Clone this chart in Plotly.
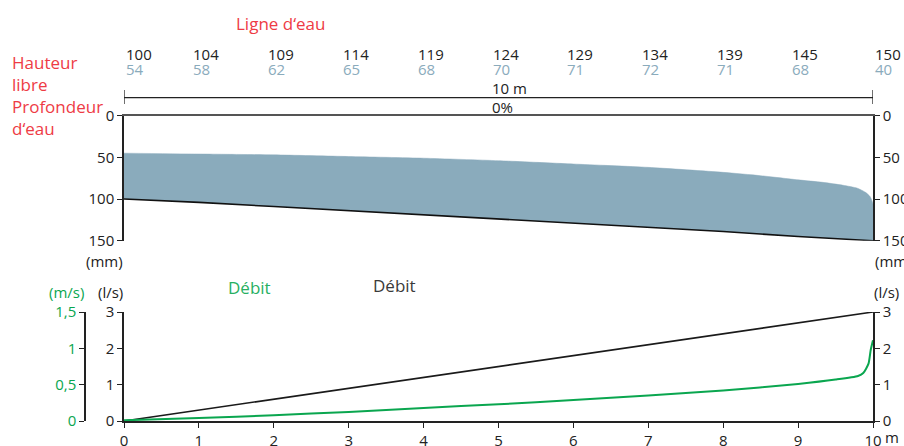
"""
Profil d'écoulement - ligne d'eau, hauteur libre et débit
"""

import plotly.graph_objects as go

# stations le long du tronçon (m)
stations = [0, 1, 2, 3, 4, 5, 6, 7, 8, 9, 10]
ligne_eau = [100, 104, 109, 114, 119, 124, 129, 134, 139, 145, 150]
hauteur_libre = [54, 58, 62, 65, 68, 70, 71, 72, 71, 68, 40]

# surface de l'eau (mm sous le haut)
surface_x = [0, 1, 2, 3, 4, 5, 6, 7, 8, 8.5, 9, 9.33, 9.6, 9.79, 9.9, 9.96, 10]
surface_mm = [45, 46, 47, 49, 51, 54, 58, 62, 68, 72, 77, 80, 83.5, 87, 92, 97, 106]

# débit (l/s) et vitesse (m/s)
debit_ls = [0, 0.3, 0.6, 0.9, 1.2, 1.5, 1.8, 2.1, 2.4, 2.7, 3.0]
vitesse_x = [0, 1, 2, 3, 4, 5, 6, 7, 8, 9, 9.5, 9.8, 9.87, 9.94, 9.97, 10]
vitesse_ms = [0.01, 0.04, 0.08, 0.125, 0.18, 0.23, 0.29, 0.35, 0.42, 0.51,
              0.57, 0.62, 0.66, 0.79, 0.98, 1.11]

profondeur_ticks = [0, 50, 100, 150]
debit_ticks = [0, 1, 2, 3]
vitesse_ticks = [0, 0.5, 1, 1.5]
vitesse_labels = ["0", "0,5", "1", "1,5"]
x_labels = ["0", "1", "2", "3", "4", "5", "6", "7", "8", "9", "10"]

RED = "#EE3B45"
GREEN = "#0AA64F"
BLUE = "#8AABBC"
INK = "#222222"
FONT = "Open Sans"
W, H = 904, 446

X_DOM = [124 / W, 873 / W]
TOP_DOM = [1 - 240.7 / H, 1 - 115.7 / H]
BOT_DOM = [1 - 421 / H, 1 - 312 / H]

fig = go.Figure()

# zone d'eau : fond puis surface remplie jusqu'au fond
fig.add_trace(go.Scatter(
    x=stations, y=ligne_eau, mode="lines",
    line=dict(color="rgba(0,0,0,0)", width=0),
    xaxis="x", yaxis="y", hoverinfo="skip",
))
fig.add_trace(go.Scatter(
    x=surface_x + [10], y=surface_mm + [ligne_eau[-1]], mode="lines",
    line=dict(color=BLUE, width=0.5, shape="spline", smoothing=0.6),
    fill="tonexty", fillcolor=BLUE,
    xaxis="x", yaxis="y", hoverinfo="skip",
))
fig.add_trace(go.Scatter(
    x=stations, y=ligne_eau, mode="lines",
    line=dict(color="#111111", width=1.6),
    xaxis="x", yaxis="y2",
))

# débit
fig.add_trace(go.Scatter(
    x=stations, y=debit_ls, mode="lines",
    line=dict(color="#1a1a1a", width=1.6),
    xaxis="x2", yaxis="y3",
))
fig.add_trace(go.Scatter(
    x=stations, y=debit_ls, mode="lines",
    line=dict(color="rgba(0,0,0,0)", width=0),
    xaxis="x2", yaxis="y4", hoverinfo="skip",
))
fig.add_trace(go.Scatter(
    x=vitesse_x, y=vitesse_ms, mode="lines",
    line=dict(color=GREEN, width=2, shape="spline", smoothing=0.6),
    xaxis="x2", yaxis="y5",
))

axis_common = dict(
    showgrid=False, zeroline=False, showline=True, automargin=False,
    linecolor=INK, linewidth=1.5,
    ticks="outside", ticklen=5, tickwidth=1, tickcolor=INK,
    tickfont=dict(size=15, color=INK, family=FONT),
)

fig.update_layout(
    width=W, height=H,
    margin=dict(l=0, r=0, t=0, b=0, autoexpand=False),
    paper_bgcolor="white", plot_bgcolor="white",
    showlegend=False,
    font=dict(family=FONT, color=INK),
    xaxis=dict(domain=X_DOM, range=[0, 10], anchor="y", side="top",
               showgrid=False, zeroline=False, showline=True, automargin=False,
               linecolor="#555555", linewidth=1.5,
               showticklabels=False, ticks=""),
    yaxis=dict(axis_common, domain=TOP_DOM, range=[150, 0], anchor="x",
               tickvals=profondeur_ticks),
    yaxis2=dict(axis_common, overlaying="y", side="right", range=[150, 0],
                anchor="x", tickvals=profondeur_ticks),
    xaxis2=dict(axis_common, domain=X_DOM, range=[0, 10], anchor="y3",
                tickvals=stations, ticktext=x_labels),
    yaxis3=dict(axis_common, domain=BOT_DOM, range=[0, 3], anchor="x2",
                tickvals=debit_ticks),
    yaxis4=dict(axis_common, overlaying="y3", side="right", range=[0, 3],
                anchor="x2", tickvals=debit_ticks),
    yaxis5=dict(axis_common, overlaying="y3", side="left", range=[0, 1.5],
                anchor="free", position=85 / W,
                tickvals=vitesse_ticks, ticktext=vitesse_labels,
                tickfont=dict(size=15, color=GREEN, family=FONT)),
)


def px_x(p):
    return p / W


def px_y(p):
    return 1 - p / H


ann = []

# titres rouges
ann.append(dict(x=px_x(280), y=px_y(23), text="Ligne d\u2018eau",
                font=dict(size=17, color=RED), xanchor="center", yanchor="middle"))
ann.append(dict(x=px_x(10), y=px_y(96),
                text="Hauteur<br>libre<br>Profondeur<br>d\u2018eau",
                font=dict(size=17, color=RED), xanchor="left", yanchor="middle",
                align="left"))

# valeurs au-dessus du profil
for i, (s, le, hl) in enumerate(zip(stations, ligne_eau, hauteur_libre)):
    shift = 0 if i in (0, len(stations) - 1) else -8
    ann.append(dict(x=s, xref="x", y=px_y(54), text=str(le), xshift=shift,
                    font=dict(size=15, color=INK), xanchor="left", yanchor="middle"))
    ann.append(dict(x=s, xref="x", y=px_y(69.5), text=str(hl), xshift=shift,
                    font=dict(size=15, color=BLUE), xanchor="left", yanchor="middle"))

# cote 10 m / pente
ann.append(dict(x=5, xref="x", y=px_y(88), text="10 m", xshift=-9,
                font=dict(size=15, color=INK), xanchor="left", yanchor="middle"))
ann.append(dict(x=5, xref="x", y=px_y(107.5), text="0%", xshift=-9,
                font=dict(size=15, color=INK), xanchor="left", yanchor="middle"))

# unités
ann.append(dict(x=px_x(125), y=px_y(261), text="(mm)",
                font=dict(size=15, color=INK), xanchor="right", yanchor="middle"))
ann.append(dict(x=px_x(873), y=px_y(261), text="(mm)",
                font=dict(size=15, color=INK), xanchor="left", yanchor="middle"))
ann.append(dict(x=px_x(125), y=px_y(292), text="(l/s)",
                font=dict(size=15, color=INK), xanchor="right", yanchor="middle"))
ann.append(dict(x=px_x(872), y=px_y(292), text="(l/s)",
                font=dict(size=15, color=INK), xanchor="left", yanchor="middle"))
ann.append(dict(x=px_x(86), y=px_y(292), text="(m/s)",
                font=dict(size=15, color=GREEN), xanchor="right", yanchor="middle"))
ann.append(dict(x=10, xref="x2", y=px_y(437), text="m", xshift=10,
                font=dict(size=15, color=INK), xanchor="left", yanchor="middle"))

# légendes débit
ann.append(dict(x=px_x(249), y=px_y(287), text="Débit",
                font=dict(size=17, color="#27B062"), xanchor="center", yanchor="middle"))
ann.append(dict(x=px_x(394), y=px_y(285), text="Débit",
                font=dict(size=17, color="#3a3a3a"), xanchor="center", yanchor="middle"))

for a in ann:
    a.setdefault("xref", "paper")
    a["yref"] = "paper"
    a["showarrow"] = False
fig.update_layout(annotations=ann)

# ligne de cote au-dessus du profil
shapes = [
    dict(type="line", xref="x", yref="paper", x0=0, x1=10,
         y0=px_y(97.7), y1=px_y(97.7), line=dict(color=INK, width=1.3)),
    dict(type="line", xref="x", yref="paper", x0=0, x1=0,
         y0=px_y(90), y1=px_y(104), line=dict(color=INK, width=1.3)),
    dict(type="line", xref="x", yref="paper", x0=10, x1=10,
         y0=px_y(90), y1=px_y(104), line=dict(color=INK, width=1.3)),
]
fig.update_layout(shapes=shapes)

# la page a une marge par défaut de 8 px : on la supprime
fig.write_html("out.html", config={"displayModeBar": False},
               post_script="document.body.style.margin='0';")
